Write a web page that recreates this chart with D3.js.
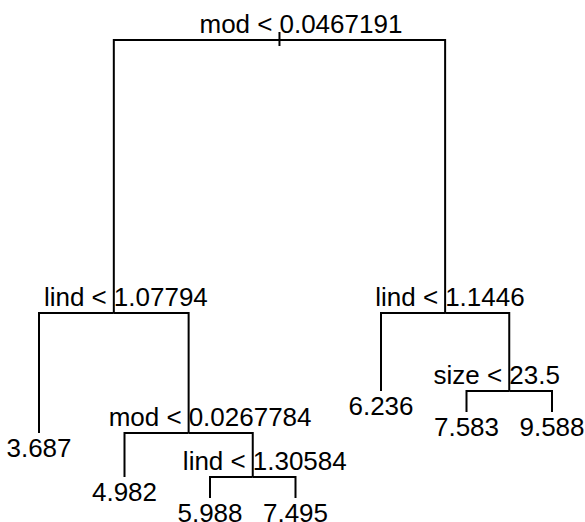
<!DOCTYPE html>
<html>
<head>
<meta charset="utf-8">
<script src="https://cdn.jsdelivr.net/npm/d3@7"></script>
<style>
  html, body { margin: 0; padding: 0; background: #fff; }
  svg { display: block; }
  text { font-family: "Liberation Sans", Arial, Helvetica, sans-serif; font-size: 26px; fill: #000; }
</style>
</head>
<body>
<script>
// Regression tree: internal nodes use R-style node numbers (children of n are 2n, 2n+1)
const splitNodes = [1, 2, 5, 11, 3, 7];
const splitVars  = ["mod", "lind", "mod", "lind", "lind", "size"];
const splitCuts  = ["0.0467191", "1.07794", "0.0267784", "1.30584", "1.1446", "23.5"];
const splitGain  = [273, 120, 44, 21, 78, 21];   // deviance reduction per split

const leafNodes  = [4, 10, 22, 23, 6, 14, 15];     // left-to-right order
const leafValues = [3.687, 4.982, 5.988, 7.495, 6.236, 7.583, 9.588];

const W = 585, H = 522;
const svg = d3.select("body").append("svg").attr("width", W).attr("height", H);

// build node table
const nodes = new Map();
splitNodes.forEach((id, i) => nodes.set(id, { id, leaf: false, v: splitVars[i], cut: splitCuts[i], gain: splitGain[i] }));
leafNodes.forEach((id, i) => nodes.set(id, { id, leaf: true, value: leafValues[i], order: i }));

// vertical position: remaining deviance; children sit below parent by the split's gain
const root = nodes.get(1);
const totalDrop = (function depthDrop(n) {
  if (n.leaf) return 0;
  return n.gain + Math.max(depthDrop(nodes.get(2 * n.id)), depthDrop(nodes.get(2 * n.id + 1)));
})(root);
root.dev = totalDrop;
(function assign(n) {
  if (n.leaf) return;
  [2 * n.id, 2 * n.id + 1].forEach(c => { const ch = nodes.get(c); ch.dev = n.dev - n.gain; assign(ch); });
})(root);

const x = d3.scaleLinear().domain([0, leafNodes.length - 1]).range([39, 552]);
const y = d3.scaleLinear().domain([totalDrop, 0]).range([40, 498]);

// horizontal position: leaves evenly spaced, splits midway between children
(function placeX(n) {
  if (n.leaf) { n.x = x(n.order); return n.x; }
  n.x = (placeX(nodes.get(2 * n.id)) + placeX(nodes.get(2 * n.id + 1))) / 2;
  return n.x;
})(root);

const g = svg.append("g").attr("fill", "none").attr("stroke", "#000").attr("stroke-width", 2);

// root stub
g.append("line")
  .attr("x1", root.x).attr("x2", root.x)
  .attr("y1", y(root.dev) - 8).attr("y2", y(root.dev) + 6);

// branches: across from parent, then down to child
splitNodes.map(id => nodes.get(id)).forEach(p => {
  [2 * p.id, 2 * p.id + 1].forEach(c => {
    const ch = nodes.get(c);
    g.append("path")
      .attr("d", d3.line()([[p.x, y(p.dev)], [ch.x, y(p.dev)], [ch.x, y(ch.dev)]]));
  });
});

// split labels: "var <" ends just before the node, cut value starts at it
const splits = splitNodes.map(id => nodes.get(id));
svg.selectAll("text.lhs").data(splits).join("text")
  .attr("class", "lhs")
  .attr("x", d => d.x - 7).attr("y", d => y(d.dev) - 7)
  .attr("text-anchor", "end")
  .text(d => d.v + " <");
svg.selectAll("text.rhs").data(splits).join("text")
  .attr("class", "rhs")
  .attr("x", d => d.x).attr("y", d => y(d.dev) - 7)
  .attr("text-anchor", "start")
  .text(d => d.cut);

// leaf values
const leaves = leafNodes.map(id => nodes.get(id));
svg.selectAll("text.leaf").data(leaves).join("text")
  .attr("class", "leaf")
  .attr("x", d => d.x).attr("y", d => y(d.dev) + 24)
  .attr("text-anchor", "middle")
  .text(d => d3.format(".3f")(d.value));
</script>
</body>
</html>
